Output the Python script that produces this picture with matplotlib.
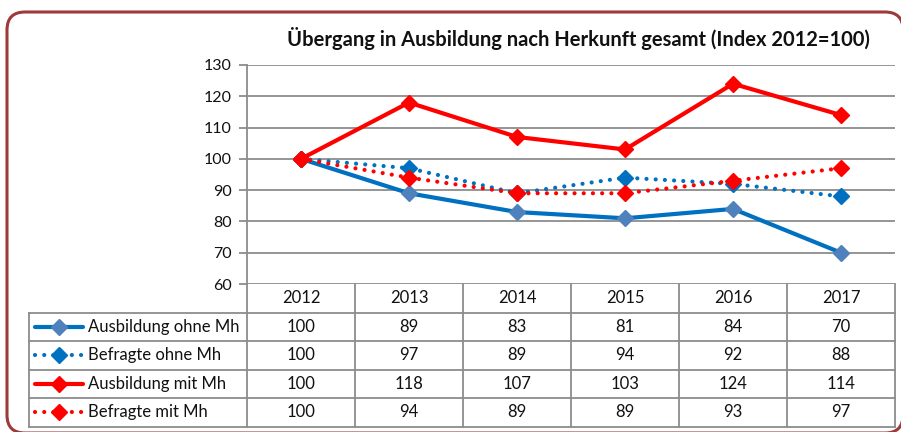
import matplotlib.pyplot as plt
from matplotlib.patches import FancyBboxPatch
from matplotlib.lines import Line2D

# index values (2012 = 100)
years = ["2012", "2013", "2014", "2015", "2016", "2017"]
series_names = ["Ausbildung ohne Mh", "Befragte ohne Mh", "Ausbildung mit Mh", "Befragte mit Mh"]
ausbildung_ohne = [100, 89, 83, 81, 84, 70]
befragte_ohne = [100, 97, 89, 94, 92, 88]
ausbildung_mit = [100, 118, 107, 103, 124, 114]
befragte_mit = [100, 94, 89, 89, 93, 97]
title = "Übergang in Ausbildung nach Herkunft gesamt (Index 2012=100)"

plt.rcParams['font.family'] = ['Lato', 'DejaVu Sans']

W, H = 901, 432
fig = plt.figure(figsize=(W / 100, H / 100), dpi=100)

# pixel layout
ax_left, ax_right, ax_top, ax_bot = 247, 895, 65, 284
row_h = 28.5
tab_left = 29

grid_col = "#8c8c8c"
txt_col = "#111111"
blue = "#0070c0"
blue_marker = "#4f81bd"
red = "#ff0000"

styles = [
    dict(color=blue, ls="-", mfc=blue_marker, mec=blue_marker),
    dict(color=blue, ls=(0, (0.01, 2.2)), mfc=blue, mec=blue),
    dict(color=red, ls="-", mfc=red, mec=red),
    dict(color=red, ls=(0, (0.01, 2.2)), mfc=red, mec=red),
]
data = [ausbildung_ohne, befragte_ohne, ausbildung_mit, befragte_mit]

# overlay for frame and table, in pixel coordinates
ov = fig.add_axes([0, 0, 1, 1])
ov.set_xlim(0, W)
ov.set_ylim(H, 0)
ov.axis("off")

frame = FancyBboxPatch((7, 12), 903 - 7, 433 - 12,
                       boxstyle="round,pad=0,rounding_size=18",
                       fc="white", ec="#9e3a3a", lw=2.2, zorder=0)
ov.add_patch(frame)

ax = fig.add_axes([ax_left / W, 1 - ax_bot / H, (ax_right - ax_left) / W, (ax_bot - ax_top) / H])
ax.set_facecolor("none")
ax.set_xlim(-0.5, len(years) - 0.5)
ax.set_ylim(60, 130)
ax.set_yticks(range(60, 131, 10))
ax.set_xticks([])
ax.yaxis.grid(True, color=grid_col, lw=1.3)
ax.set_axisbelow(True)
for s in ["top", "right", "bottom"]:
    ax.spines[s].set_visible(False)
ax.spines["left"].set_color(grid_col)
ax.spines["left"].set_linewidth(1.3)
ax.tick_params(axis="y", length=6, width=1.3, color=grid_col, labelsize=11.5, pad=5, labelcolor=txt_col)

x = range(len(years))
for vals, st in zip(data, styles):
    ax.plot(x, vals, color=st["color"], ls=st["ls"], lw=3, solid_capstyle="round",
            dash_capstyle="round", marker="D", ms=8.5, mfc=st["mfc"], mec=st["mec"],
            clip_on=False)

fig.text(578 / W, 1 - 38 / H, title, ha="center", va="center",
         fontsize=14.5, fontweight="bold", color=txt_col)

# data table below the axes
col_w = (ax_right - ax_left) / len(years)
tab_bottom = ax_bot + row_h * 5
lk = dict(color=grid_col, lw=1.3, zorder=1)
ov.plot([ax_left, ax_left], [ax_bot, tab_bottom], **lk)
ov.plot([ax_right, ax_right], [ax_bot, tab_bottom], **lk)
ov.plot([tab_left, tab_left], [ax_bot + row_h, tab_bottom], **lk)
for i in range(1, len(years)):
    xc = ax_left + i * col_w
    ov.plot([xc, xc], [ax_bot, tab_bottom], **lk)
for r in range(1, 6):
    yr = ax_bot + r * row_h
    ov.plot([tab_left, ax_right], [yr, yr], **lk)

for i, yl in enumerate(years):
    ov.text(ax_left + (i + 0.5) * col_w, ax_bot + row_h / 2, yl, ha="center", va="center",
            fontsize=12, color=txt_col)

for r, (name, vals, st) in enumerate(zip(series_names, data, styles)):
    yc = ax_bot + (r + 1.5) * row_h
    ov.add_line(Line2D([35, 83], [yc, yc], color=st["color"], ls=st["ls"], lw=3,
                       solid_capstyle="round", dash_capstyle="round"))
    ov.plot([59], [yc], marker="D", ms=8.5, mfc=st["mfc"], mec=st["mec"], ls="none")
    ov.text(88, yc, name, ha="left", va="center", fontsize=12, color=txt_col)
    for i, v in enumerate(vals):
        ov.text(ax_left + (i + 0.5) * col_w, yc, str(v), ha="center", va="center",
                fontsize=12, color=txt_col)

fig.savefig("out.png", dpi=100)
